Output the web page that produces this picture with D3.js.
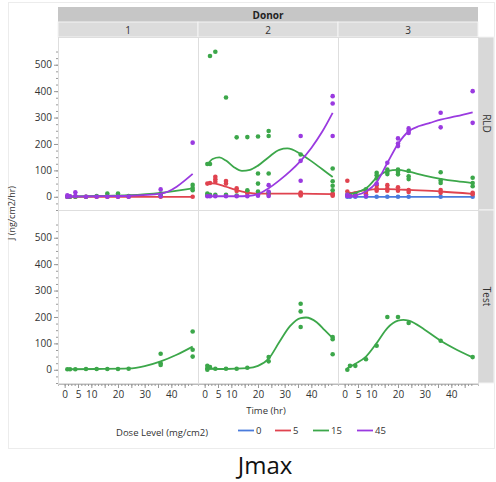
<!DOCTYPE html>
<html>
<head>
<meta charset="utf-8">
<script src="https://cdn.jsdelivr.net/npm/d3@7"></script>
<style>
  body { margin: 0; background: #fff; }
  text { font-family: "Segoe UI", "Open Sans", "Noto Sans", sans-serif; }
</style>
</head>
<body>
<script>
const WIDTH = 496;
const HEIGHT = 482;

// facets
const DONORS = ["1", "2", "3"];
const PRODUCTS = ["RLD", "Test"];
const DOSES = ["0", "5", "15", "45"];
const COLORS = {"0": "#4a7bdc", "5": "#e0434f", "15": "#3ca74a", "45": "#9a3ae0"};

const X_LABELS = [0, 5, 10, 20, 30, 40];
const Y_LABELS = [0, 100, 200, 300, 400, 500];

// [time (hr), J] points and fitted curve
const rld1_5 = [[1,0],[2,0],[4,0],[8,0],[12,0],[16,0],[20,0],[24,0],[36,0],[48,0]];
const rld1_5_fit = [[1,0],[48,0]];
const rld1_15 = [[1,0],[2,0],[4,0],[8,0],[12,3],[16,12],[16,3],[20,12],[20,3],[24,3],[36,12],[36,5],[48,45],[48,33],[48,25]];
const rld1_15_fit = [[1,1],[12,3],[24,6],[36,15],[48,32]];
const rld1_45 = [[1,0],[1,6],[2,2],[4,17],[4,3],[8,0],[12,0],[16,0],[20,0],[24,0],[36,28],[36,2],[48,205]];
const rld1_45_fit = [[1,1],[12,2],[24,4],[36,12],[48,87]];

const rld2_5 = [[1,50],[2,52],[4,76],[4,66],[4,57],[8,60],[8,50],[12,32],[12,22],[16,20],[16,12],[20,10],[24,12],[24,8],[36,16],[36,10],[36,5],[48,12],[48,8],[48,4]];
const rld2_5_fit = [[1,52],[4,50],[8,38],[12,25],[16,16],[20,12],[28,12],[36,12],[48,10]];
const rld2_15 = [[1,124],[1,12],[1,6],[2,533],[2,124],[2,8],[4,549],[4,8],[8,376],[8,8],[12,225],[12,5],[16,226],[16,25],[20,228],[20,88],[20,50],[20,20],[24,249],[24,230],[24,88],[24,15],[36,160],[48,107],[48,59],[48,42],[48,25]];
const rld2_15_fit = [[1,122],[3,143],[5.5,149],[8,137],[11,112],[14,98],[17,102],[20,118],[24,150],[28,178],[31,183],[36,162],[40,135],[44,105],[48,75]];
const rld2_45 = [[1,2],[2,2],[4,2],[8,2],[12,2],[16,2],[20,4],[24,44],[24,19],[24,3],[36,230],[36,136],[36,61],[48,381],[48,353],[48,230]];
const rld2_45_fit = [[1,2],[12,2],[16,3],[20,10],[24,32],[28,62],[32,96],[36,136],[40,185],[44,245],[48,318]];

const rld3_0 = [[1,0],[2,0],[4,0],[8,0],[12,0],[16,0],[20,0],[24,0],[36,0],[48,0]];
const rld3_0_fit = [[1,0],[48,0]];
const rld3_5 = [[1,61],[1,20],[2,10],[4,12],[8,20],[8,10],[12,44],[12,31],[12,23],[16,44],[16,31],[16,23],[20,36],[20,23],[24,26],[24,18],[36,26],[36,15],[48,15],[48,10]];
const rld3_5_fit = [[1,12],[4,18],[8,25],[12,29],[16,29],[20,28],[24,26],[36,20],[48,11]];
const rld3_15 = [[1,8],[2,6],[4,8],[8,28],[12,91],[12,82],[12,69],[16,103],[16,95],[16,86],[20,103],[20,95],[20,85],[24,98],[24,78],[24,67],[36,93],[36,62],[36,52],[48,72],[48,52],[48,40]];
const rld3_15_fit = [[1,10],[4,15],[8,32],[12,72],[16,97],[20,102],[24,95],[30,80],[36,68],[42,59],[48,52]];
const rld3_45 = [[1,3],[1,8],[2,3],[4,3],[8,3],[12,50],[16,129],[20,221],[20,202],[20,192],[24,259],[24,250],[24,242],[36,318],[36,263],[48,400],[48,280]];
const rld3_45_fit = [[1,0],[4,5],[8,20],[12,55],[16,128],[20,200],[24,248],[28,268],[32,280],[36,292],[42,305],[48,320]];

const test1_15 = [[1,2],[2,2],[4,2],[8,3],[12,3],[16,3],[20,3],[24,4],[36,61],[36,25],[36,18],[48,145],[48,76],[48,50]];
const test1_15_fit = [[1,2],[12,3],[24,5],[30,14],[36,32],[42,57],[48,88]];
const test2_15 = [[1,15],[1,6],[1,0],[2,10],[4,4],[8,4],[12,4],[16,8],[24,48],[24,32],[36,250],[36,221],[36,162],[48,124],[48,116],[48,59]];
const test2_15_fit = [[1,4],[8,3],[16,6],[20,15],[24,42],[28,105],[32,165],[36,196],[38,198],[42,180],[45,150],[48,120]];
const test3_15 = [[1,0],[2,15],[4,15],[8,40],[12,91],[16,200],[20,200],[24,177],[36,110],[48,48]];
const test3_15_fit = [[1,6],[4,23],[8,50],[12,101],[16,158],[20,186],[22,189],[24,186],[30,152],[36,110],[42,76],[48,47]];

const SERIES = [
  {donor: "1", product: "RLD", dose: "5", pts: rld1_5, fit: rld1_5_fit},
  {donor: "1", product: "RLD", dose: "15", pts: rld1_15, fit: rld1_15_fit},
  {donor: "1", product: "RLD", dose: "45", pts: rld1_45, fit: rld1_45_fit},
  {donor: "2", product: "RLD", dose: "5", pts: rld2_5, fit: rld2_5_fit},
  {donor: "2", product: "RLD", dose: "15", pts: rld2_15, fit: rld2_15_fit},
  {donor: "2", product: "RLD", dose: "45", pts: rld2_45, fit: rld2_45_fit},
  {donor: "3", product: "RLD", dose: "0", pts: rld3_0, fit: rld3_0_fit},
  {donor: "3", product: "RLD", dose: "5", pts: rld3_5, fit: rld3_5_fit},
  {donor: "3", product: "RLD", dose: "15", pts: rld3_15, fit: rld3_15_fit},
  {donor: "3", product: "RLD", dose: "45", pts: rld3_45, fit: rld3_45_fit},
  {donor: "1", product: "Test", dose: "15", pts: test1_15, fit: test1_15_fit},
  {donor: "2", product: "Test", dose: "15", pts: test2_15, fit: test2_15_fit},
  {donor: "3", product: "Test", dose: "15", pts: test3_15, fit: test3_15_fit}
];

// layout
const LEFT = 58;
const PANEL_W = 140;
const TOP = 37;
const PANEL_H = 173;
const STRIP_W = 16;

const svg = d3.select("body").append("svg")
  .attr("width", WIDTH).attr("height", HEIGHT);

// faint outer frame
svg.append("rect")
  .attr("x", 8.5).attr("y", 2.5).attr("width", 486).attr("height", 446)
  .attr("fill", "none").attr("stroke", "#ececec");

const colX = d3.scaleBand().domain(DONORS).range([LEFT, LEFT + 3 * PANEL_W]);
const rowY = d3.scaleBand().domain(PRODUCTS).range([TOP, TOP + 2 * PANEL_H]);

const xScale = donor => d3.scaleLinear().domain([-2.5, 50])
  .range([colX(donor), colX(donor) + PANEL_W]);
const yScale = product => d3.scaleLinear().domain([-50, 605])
  .range([rowY(product) + PANEL_H, rowY(product)]);

// header bands
svg.append("rect").attr("x", LEFT).attr("y", 7).attr("width", 3 * PANEL_W).attr("height", 15)
  .attr("fill", "#c6c6c6");
svg.append("text").attr("x", LEFT + 1.5 * PANEL_W).attr("y", 18.5)
  .attr("text-anchor", "middle").attr("font-size", 10).attr("font-weight", "bold")
  .attr("fill", "#222").text("Donor");

DONORS.forEach(d => {
  svg.append("rect").attr("x", colX(d)).attr("y", 22).attr("width", PANEL_W).attr("height", 15)
    .attr("fill", "#dcdcdc").attr("stroke", "#f4f4f4");
  svg.append("text").attr("x", colX(d) + PANEL_W / 2).attr("y", 33.5)
    .attr("text-anchor", "middle").attr("font-size", 10).attr("fill", "#333").text(d);
});

PRODUCTS.forEach(p => {
  svg.append("rect").attr("x", LEFT + 3 * PANEL_W).attr("y", rowY(p)).attr("width", STRIP_W).attr("height", PANEL_H)
    .attr("fill", "#d8d8d8").attr("stroke", "#f4f4f4");
  const cx = LEFT + 3 * PANEL_W + STRIP_W / 2;
  const cy = rowY(p) + PANEL_H / 2;
  svg.append("text").attr("transform", `translate(${cx - 3.5},${cy}) rotate(90)`)
    .attr("text-anchor", "middle").attr("font-size", 10).attr("fill", "#333").text(p);
});

// panels
PRODUCTS.forEach(p => {
  DONORS.forEach(d => {
    svg.append("rect").attr("x", colX(d) + 0.5).attr("y", rowY(p) + 0.5)
      .attr("width", PANEL_W).attr("height", PANEL_H)
      .attr("fill", "#fff").attr("stroke", "#dedede");
  });
});

// y axes
PRODUCTS.forEach(p => {
  const y = yScale(p);
  const g = svg.append("g").attr("transform", `translate(${LEFT},0)`);
  g.call(d3.axisLeft(y).tickValues(d3.range(-50, 551, 25)).tickSize(2).tickFormat(""));
  g.select(".domain").remove();
  const g2 = svg.append("g").attr("transform", `translate(${LEFT},0)`);
  g2.call(d3.axisLeft(y).tickValues(Y_LABELS).tickSize(4).tickPadding(2));
  g2.select(".domain").remove();
  g2.selectAll("text").attr("font-size", 10).attr("fill", "#333")
    .style("font-family", "'Segoe UI', 'Open Sans', sans-serif");
});

// x axes
const xBase = TOP + 2 * PANEL_H + 1;
DONORS.forEach(d => {
  const x = xScale(d);
  const g = svg.append("g").attr("transform", `translate(0,${xBase})`);
  g.call(d3.axisBottom(x).tickValues(d3.range(0, 48.1, 1.25)).tickSize(2).tickFormat(""));
  g.select(".domain").attr("stroke", "#bbb");
  const g2 = svg.append("g").attr("transform", `translate(0,${xBase})`);
  g2.call(d3.axisBottom(x).tickValues(d3.range(0, 46, 5)).tickSize(4).tickPadding(3)
    .tickFormat(v => X_LABELS.includes(v) ? v : ""));
  g2.select(".domain").remove();
  g2.selectAll("text").attr("font-size", 10).attr("fill", "#333")
    .style("font-family", "'Segoe UI', 'Open Sans', sans-serif");
});
svg.selectAll(".tick line").attr("stroke", "#999");

// series
const line = (x, y) => d3.line().x(v => x(v[0])).y(v => y(v[1])).curve(d3.curveMonotoneX);

DOSES.forEach(dose => {
  SERIES.filter(s => s.dose === dose).forEach(s => {
    const x = xScale(s.donor);
    const y = yScale(s.product);
    svg.append("g").selectAll("circle")
      .data(s.pts).enter().append("circle")
      .attr("cx", v => x(v[0])).attr("cy", v => y(v[1]))
      .attr("r", 2.3).attr("fill", COLORS[dose]);
    svg.append("path").datum(s.fit)
      .attr("d", line(x, y))
      .attr("fill", "none").attr("stroke", COLORS[dose]).attr("stroke-width", 1.8);
  });
});

// axis titles
svg.append("text").attr("transform", "translate(15,213) rotate(-90)")
  .attr("text-anchor", "middle").attr("font-size", 9).attr("fill", "#333")
  .text("J (ng/cm2/hr)");
svg.append("text").attr("x", 266).attr("y", 414)
  .attr("text-anchor", "middle").attr("font-size", 9.5).attr("fill", "#333")
  .text("Time (hr)");

// legend
svg.append("text").attr("x", 116).attr("y", 436)
  .attr("font-size", 9.5).attr("fill", "#333").text("Dose Level (mg/cm2)");
const legendX = d3.scaleOrdinal().domain(DOSES).range([238, 275, 313, 357]);
DOSES.forEach(dose => {
  svg.append("line").attr("x1", legendX(dose)).attr("x2", legendX(dose) + 16)
    .attr("y1", 430.5).attr("y2", 430.5)
    .attr("stroke", COLORS[dose]).attr("stroke-width", 1.8);
  svg.append("text").attr("x", legendX(dose) + 18).attr("y", 434)
    .attr("font-size", 9.5).attr("fill", "#333").text(dose);
});

// caption
svg.append("text").attr("x", 265).attr("y", 474)
  .attr("text-anchor", "middle").attr("font-size", 24).attr("fill", "#111")
  .text("Jmax");
</script>
</body>
</html>
